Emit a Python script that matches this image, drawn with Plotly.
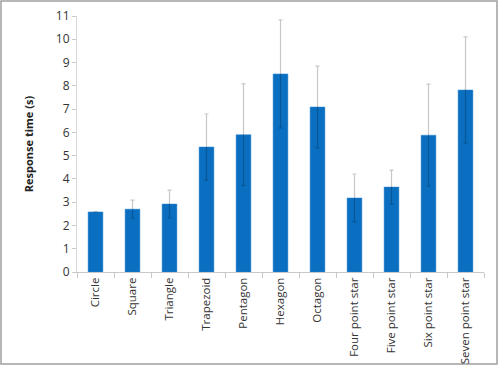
import plotly.graph_objects as go

categories = ["Circle", "Square", "Triangle", "Trapezoid", "Pentagon", "Hexagon",
              "Octagon", "Four point star", "Five point star", "Six point star",
              "Seven point star"]
response_time = [2.58, 2.70, 2.92, 5.37, 5.90, 8.51, 7.09, 3.18, 3.65, 5.88, 7.82]
error = [0.0, 0.39, 0.60, 1.42, 2.18, 2.32, 1.76, 1.03, 0.73, 2.19, 2.28]

fig = go.Figure()
fig.add_trace(go.Bar(
    x=categories, y=response_time,
    marker=dict(color="#0a6fc0", line=dict(color="#2f86d0", width=0.5)),
    width=0.4,
    error_y=dict(type="data", array=error, visible=True,
                 color="rgba(0,0,0,0.22)", thickness=1.2, width=2),
))

W, H = 499, 366
l, r, t, b = 77, 15, 16, 94
pw, ph = W - l - r, H - t - b

fig.update_layout(
    width=W, height=H,
    margin=dict(l=l, r=r, t=t, b=b),
    paper_bgcolor="white", plot_bgcolor="white",
    font=dict(family="Open Sans, Liberation Sans, sans-serif", size=11, color="#333"),
    showlegend=False,
    bargap=0.6,
    xaxis=dict(
        tickangle=-90, tickson="boundaries", ticks="outside", ticklen=5,
        tickcolor="#c8c8c8", showline=True, linecolor="#c8c8c8", linewidth=1,
        showgrid=False, tickfont=dict(size=11.5), automargin=False,
    ),
    yaxis=dict(
        range=[0, 11], dtick=1, ticks="outside", ticklen=4, tickcolor="#c8c8c8",
        showline=True, linecolor="#d8d8d8", linewidth=1, showgrid=False,
        zeroline=False, tickfont=dict(size=12), automargin=False,
        title=dict(text="<b>Response time (s)</b>", font=dict(size=11, color="#222"),
                   standoff=20),
    ),
    shapes=[dict(
        type="rect", xref="paper", yref="paper",
        x0=(1 - l) / pw, x1=(497 - l) / pw,
        y0=(H - b - 364) / ph, y1=(H - b - 1) / ph,
        line=dict(color="#a0a0a0", width=1.5), fillcolor="rgba(0,0,0,0)",
        layer="below",
    )],
)

fig.write_html("out.html")
